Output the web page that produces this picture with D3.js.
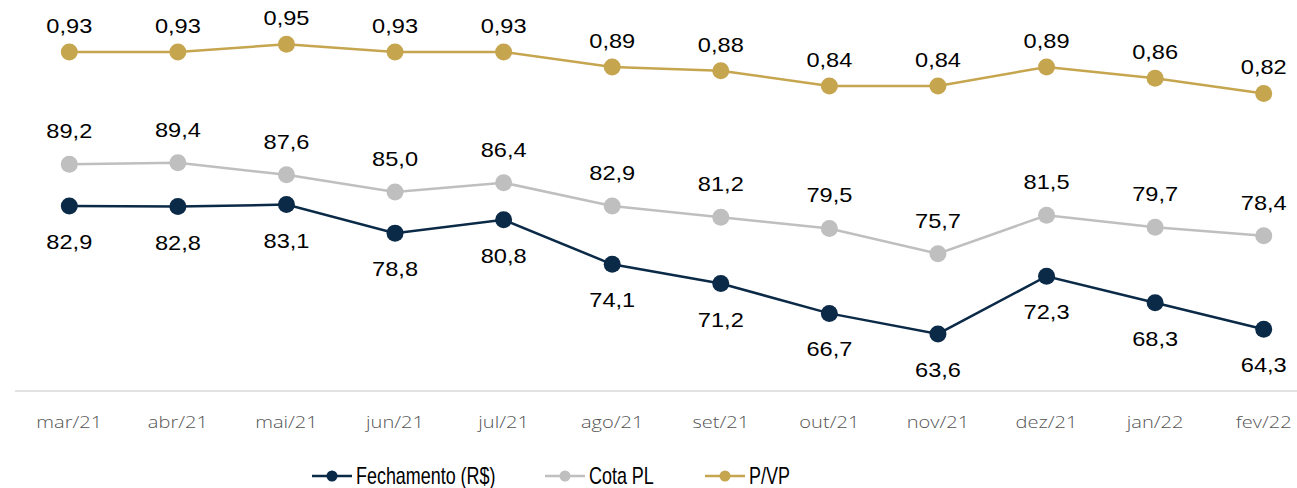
<!doctype html>
<html lang="pt">
<head>
<meta charset="utf-8" />
<title>Fechamento x Cota PL x P/VP</title>
<script src="https://d3js.org/d3.v7.min.js"></script>
<style type="text/css">
body { margin: 0; background: #fff; }
#svg_div { width: 1297px; height: 488px; }
.lbl { font-family: "Liberation Sans", Arial, sans-serif; font-size: 20px; fill: #000; }
.xaxis text { font-family: "Open Sans", "Noto Sans", sans-serif; font-size: 17px; font-weight: 300; fill: #555555; }
.legend text { font-family: "Liberation Sans", Arial, sans-serif; font-size: 23px; fill: #000; }
</style>
</head>
<body>
<div id="svg_div"></div>
<script>
// data
var months = ["mar/21","abr/21","mai/21","jun/21","jul/21","ago/21","set/21","out/21","nov/21","dez/21","jan/22","fev/22"];
var fechamento = [82.9, 82.8, 83.1, 78.8, 80.8, 74.1, 71.2, 66.7, 63.6, 72.3, 68.3, 64.3];
var cotaPL = [89.2, 89.4, 87.6, 85.0, 86.4, 82.9, 81.2, 79.5, 75.7, 81.5, 79.7, 78.4];
var pvp = [0.93, 0.93, 0.95, 0.93, 0.93, 0.89, 0.88, 0.84, 0.84, 0.89, 0.86, 0.82];

var width = 1297, height = 488;
var axisY = 391;
var stretch = 1.18; // the original picture is a bit wider than its fonts

var svg = d3.select("#svg_div").append("svg")
  .attr("width", width)
  .attr("height", height);

// x scale: one band per month
var xScale = d3.scaleBand()
  .domain(months)
  .range([15, 1318]);
function cx(i){ return xScale(months[i]) + xScale.bandwidth()/2; }

// left axis (R$) and right axis (P/VP), both hidden
var yLeft = d3.scaleLinear().domain([55, 115]).range([axisY, -7]);
var yRight = d3.scaleLinear().domain([0.03, 1.07]).range([392, -1]);

// x axis
var xAxis = d3.axisBottom(xScale).tickSize(0).tickPadding(25);
var gx = svg.append("g")
  .attr("class", "xaxis")
  .attr("transform", "translate(0," + axisY + ")")
  .call(xAxis);
gx.select(".domain").attr("stroke", "#d9d9d9").attr("stroke-width", 1.5)
  .attr("d", "M15,0H" + width);
gx.selectAll(".tick text").attr("transform", "scale(" + stretch + ",1)");

var fmt = function(digits){
  return function(d){ return d.toFixed(digits).replace(".", ","); };
};

var series = [
  {name: "Fechamento (R$)", values: fechamento, scale: yLeft, color: "#0b2a47", dy: 43, f: fmt(1)},
  {name: "Cota PL", values: cotaPL, scale: yLeft, color: "#bfbfbf", dy: -26, f: fmt(1)},
  {name: "P/VP", values: pvp, scale: yRight, color: "#c6a54f", dy: -19, f: fmt(2)}
];

// draw back to front: P/VP, Cota PL, Fechamento
series.slice().reverse().forEach(function(s){
  var line = d3.line()
    .x(function(d,i){ return cx(i); })
    .y(function(d){ return s.scale(d); });

  svg.append("path")
    .datum(s.values)
    .attr("fill", "none")
    .attr("stroke", s.color)
    .attr("stroke-width", 2.5)
    .attr("d", line);

  svg.selectAll(null)
    .data(s.values)
    .enter()
    .append("circle")
      .attr("cx", function(d,i){ return cx(i); })
      .attr("cy", function(d){ return s.scale(d); })
      .attr("r", 8.5)
      .attr("fill", s.color);

  svg.selectAll(null)
    .data(s.values)
    .enter()
    .append("text")
      .attr("class", "lbl")
      .attr("transform", function(d,i){
        return "translate(" + cx(i) + "," + (s.scale(d) + s.dy) + ") scale(" + stretch + ",1)";
      })
      .attr("text-anchor", "middle")
      .text(s.f);
});

// legend (text is condensed like the original)
var legendX = [312, 545, 705];
var legend = svg.append("g").attr("class", "legend");
series.forEach(function(s, i){
  var g = legend.append("g").attr("transform", "translate(" + legendX[i] + ",476)");
  g.append("line")
    .attr("x1", 0).attr("x2", 40)
    .attr("y1", 0).attr("y2", 0)
    .attr("stroke", s.color)
    .attr("stroke-width", 2.5);
  g.append("circle")
    .attr("cx", 20).attr("cy", 0).attr("r", 5.5)
    .attr("fill", s.color);
  g.append("text")
    .attr("transform", "translate(44,8) scale(0.78,1)")
    .text(s.name);
});
</script>
</body>
</html>
